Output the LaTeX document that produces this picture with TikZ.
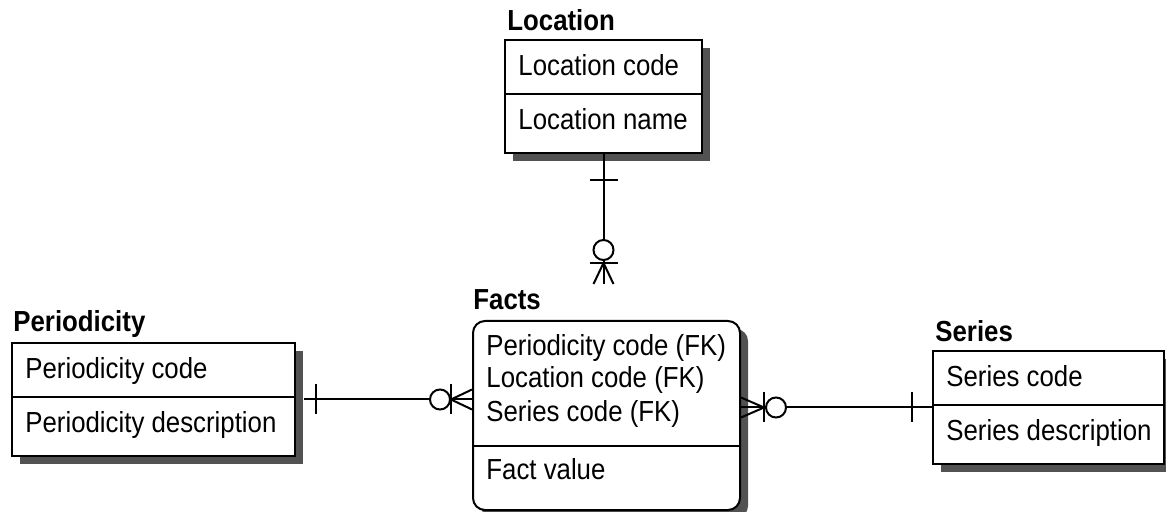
\documentclass[tikz,border=0pt]{standalone}
\usepackage{fontspec}
\setmainfont{Liberation Sans}[FakeStretch=0.89]
\usetikzlibrary{calc, fit, shadows}

\tikzset{
  entity/.style={draw, line width=1pt, fill=white, inner sep=0pt,
    drop shadow={shadow xshift=4pt, shadow yshift=-4pt, fill=black!68, opacity=1}},
  attr/.style={anchor=base west, inner sep=0pt, font=\fontsize{14.5}{17}\selectfont},
  etitle/.style={anchor=base west, inner sep=0pt, font=\fontsize{14.5}{17}\selectfont\bfseries},
  rel/.style={line width=1pt},
  ring/.style={line width=1pt, fill=white},
}

\begin{document}
\begin{tikzpicture}[x=0.5pt, y=-0.5pt]
  \useasboundingbox (0,0) rectangle (1166,512);

  % Location
  \node[etitle] (loc-title) at (507,31) {Location};
  \node[entity, fit={(505,40) (702,153)}] (location) {};
  \draw[line width=1pt] (location.west |- 0,94) -- (location.east |- 0,94);
  \node[attr] (loc-code) at (518,76) {Location code};
  \node[attr] (loc-name) at (518,130) {Location name};

  % Periodicity
  \node[etitle] (per-title) at (13,332) {Periodicity};
  \node[entity, fit={(12,343) (295,456)}] (periodicity) {};
  \draw[line width=1pt] (periodicity.west |- 0,397) -- (periodicity.east |- 0,397);
  \node[attr] (per-code) at (25,379) {Periodicity code};
  \node[attr] (per-desc) at (25,433) {Periodicity description};

  % Facts
  \node[etitle] (facts-title) at (473,310) {Facts};
  \node[entity, rounded corners=6pt, fit={(473,321) (740,510)}] (facts) {};
  \draw[line width=1pt] (facts.west |- 0,446) -- (facts.east |- 0,446);
  \node[attr] (facts-per) at (486,356) {Periodicity code (FK)};
  \node[attr] (facts-loc) at (486,388) {Location code (FK)};
  \node[attr] (facts-ser) at (486,422) {Series code (FK)};
  \node[attr] (facts-val) at (486,480) {Fact value};

  % Series
  \node[etitle] (ser-title) at (935,342) {Series};
  \node[entity, fit={(933,351) (1164,464)}] (series) {};
  \draw[line width=1pt] (series.west |- 0,405) -- (series.east |- 0,405);
  \node[attr] (ser-code) at (946,387) {Series code};
  \node[attr] (ser-desc) at (946,441) {Series description};

  % Location -- Facts
  \coordinate (loc-end) at ($(location.south)+(0,130)$);
  \draw[rel] (location.south) -- (loc-end);
  \draw[rel] ($(location.south)+(-14,26)$) -- ++(28,0);
  \draw[ring] ($(location.south)+(0,96)$) circle[radius=10];
  \draw[rel] ($(location.south)+(-14,109)$) -- ++(28,0);
  \draw[rel] ($(location.south)+(0,109)$) -- ($(loc-end)+(-10,0)$);
  \draw[rel] ($(location.south)+(0,109)$) -- (loc-end);
  \draw[rel] ($(location.south)+(0,109)$) -- ($(loc-end)+(10,0)$);

  % Periodicity -- Facts
  \coordinate (per-end) at (facts.west |- periodicity.east);
  \draw[rel] ($(periodicity.east)+(8,0)$) -- (per-end);
  \draw[rel] ($(periodicity.east)+(20,-15)$) -- ++(0,30);
  \draw[ring] ($(per-end)+(-32,0)$) circle[radius=10];
  \draw[rel] ($(per-end)+(-21,-15)$) -- ++(0,30);
  \draw[rel] ($(per-end)+(-21,0)$) -- ($(per-end)+(0,-10)$);
  \draw[rel] ($(per-end)+(-21,0)$) -- (per-end);
  \draw[rel] ($(per-end)+(-21,0)$) -- ($(per-end)+(0,10)$);

  % Facts -- Series
  \coordinate (ser-end) at (facts.east |- series.west);
  \draw[rel] (ser-end) -- (series.west);
  \draw[rel] ($(series.west)+(-20,-15)$) -- ++(0,30);
  \draw[ring] ($(ser-end)+(35,0)$) circle[radius=10];
  \draw[rel] ($(ser-end)+(23,-15)$) -- ++(0,30);
  \draw[rel] ($(ser-end)+(23,0)$) -- ($(ser-end)+(0,-10)$);
  \draw[rel] ($(ser-end)+(23,0)$) -- (ser-end);
  \draw[rel] ($(ser-end)+(23,0)$) -- ($(ser-end)+(0,10)$);
\end{tikzpicture}
\end{document}
